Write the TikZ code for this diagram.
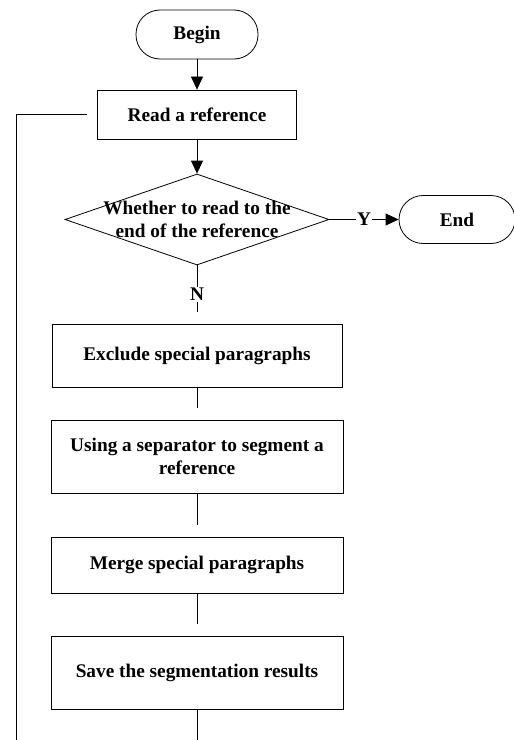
\documentclass[tikz,border=0pt]{standalone}
\usepackage{fontspec}
\setmainfont{Liberation Serif}
\usetikzlibrary{arrows.meta,shapes.geometric}
\begin{document}
\begin{tikzpicture}[x=1bp,y=-1bp,line width=0.8bp,
  txt/.style={font=\fontsize{19.3bp}{23bp}\selectfont\bfseries,align=center},
  term/.style={txt,draw,rounded corners=24bp,inner sep=0pt},
  box/.style={txt,draw,inner sep=0pt},
  lbl/.style={txt,fill=white,inner sep=1bp},
  arr/.style={-{Triangle[length=13bp,width=12bp]}},
  link/.style={shorten >=12bp}]
\useasboundingbox (0,0) rectangle (514,740);
\node[term,minimum width=122bp,minimum height=49bp] (begin) at (197,34.5) {Begin};
\node[box,minimum width=199bp,minimum height=49bp] (read) at (197,114.5) {Read a reference};
\node[draw,diamond,minimum width=264bp,minimum height=91bp,inner sep=0pt] (dec) at (197,219.5) {};
\node[txt] (dectxt) at (dec.center) {Whether to read to the\\end of the reference};
\node[term,minimum width=116bp,minimum height=48bp] (end) at (457,219.5) {End};
\node[box,minimum width=290bp,minimum height=63bp] (excl) at (197,355.5) {Exclude special paragraphs};
\node[box,minimum width=292bp,minimum height=73bp] (using) at (197,456.8) {Using a separator to segment a\\reference};
\node[box,minimum width=292bp,minimum height=56bp] (merge) at (197,565) {Merge special paragraphs};
\node[box,minimum width=292bp,minimum height=73bp] (save) at (197,673) {Save the segmentation results};
\coordinate (bot) at (197,740);
\coordinate (loopA) at (86.7,114.5);
\coordinate (loopC) at (16,114.5);
\coordinate (loopB) at (16,740);
\draw[arr] (begin) -- (read);
\draw[arr] (read) -- (dec);
\draw[arr] (dec.east) -- node[lbl] (ylab) {Y} (end.west);
\draw[link] (dec.south) -- node[lbl] (nlab) {N} (excl.north);
\draw[link] (excl) -- (using);
\draw[link] (using) -- (merge);
\draw[link] (merge) -- (save);
\draw (save) -- (bot);
\draw (loopA) -- (loopC) -- (loopB);
\end{tikzpicture}
\end{document}
